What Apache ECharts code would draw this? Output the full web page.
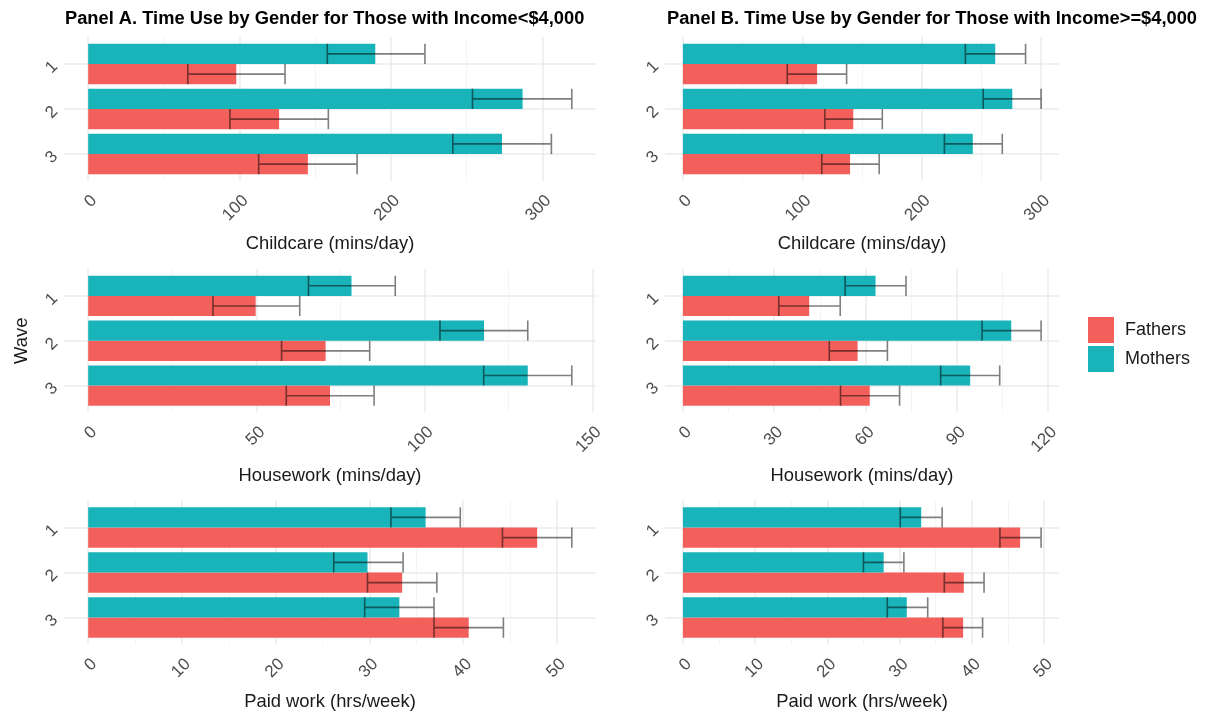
<!DOCTYPE html>
<html><head><meta charset="utf-8">
<script src="https://cdn.jsdelivr.net/npm/echarts@6/dist/echarts.min.js"></script>
<style>html,body{margin:0;padding:0;background:#fff}#c{width:1207px;height:713px}</style>
</head><body><div id="c"></div>
<script>
// ---------- data ----------
const waves = ['1', '2', '3'];
const genders = ['Fathers', 'Mothers'];

// Panel A (Income < $4,000) — Childcare (mins/day)
const childA_fathers    = [97.8, 126.1, 145.1];
const childA_fathers_lo = [65.8, 93.6, 112.6];
const childA_fathers_hi = [130.0, 158.6, 177.6];
const childA_mothers    = [189.6, 286.9, 273.3];
const childA_mothers_lo = [157.9, 253.8, 240.8];
const childA_mothers_hi = [222.4, 319.4, 305.9];
// Panel B (Income >= $4,000) — Childcare
const childB_fathers    = [112.4, 142.7, 140.0];
const childB_fathers_lo = [87.4, 118.9, 116.3];
const childB_fathers_hi = [137.1, 167.0, 164.4];
const childB_mothers    = [261.6, 275.9, 242.8];
const childB_mothers_lo = [236.6, 251.5, 219.0];
const childB_mothers_hi = [287.0, 300.0, 267.5];
// Panel A — Housework (mins/day)
const houseA_fathers    = [49.8, 70.6, 71.9];
const houseA_fathers_lo = [37.1, 57.5, 58.9];
const houseA_fathers_hi = [62.9, 83.7, 85.0];
const houseA_mothers    = [78.3, 117.7, 130.7];
const houseA_mothers_lo = [65.5, 104.6, 117.6];
const houseA_mothers_hi = [91.3, 130.7, 143.8];
// Panel B — Housework
const houseB_fathers    = [41.5, 57.4, 61.4];
const houseB_fathers_lo = [31.5, 48.1, 51.8];
const houseB_fathers_hi = [51.7, 67.2, 71.2];
const houseB_mothers    = [63.3, 107.9, 94.4];
const houseB_mothers_lo = [53.3, 98.3, 84.7];
const houseB_mothers_hi = [73.3, 117.7, 104.1];
// Panel A — Paid work (hrs/week)
const paidA_fathers    = [47.9, 33.5, 40.6];
const paidA_fathers_lo = [44.2, 29.8, 36.9];
const paidA_fathers_hi = [51.6, 37.2, 44.3];
const paidA_mothers    = [36.0, 29.8, 33.2];
const paidA_mothers_lo = [32.3, 26.2, 29.5];
const paidA_mothers_hi = [39.7, 33.6, 36.9];
// Panel B — Paid work
const paidB_fathers    = [46.7, 38.9, 38.8];
const paidB_fathers_lo = [43.9, 36.2, 36.0];
const paidB_fathers_hi = [49.6, 41.7, 41.5];
const paidB_mothers    = [33.0, 27.8, 31.0];
const paidB_mothers_lo = [30.1, 25.0, 28.3];
const paidB_mothers_hi = [35.9, 30.6, 33.9];

// tick labels (major) and minor gridline positions
const childTicks  = [0, 100, 200, 300];
const childMinor  = [50, 150, 250];
const houseTicksA = [0, 50, 100, 150];
const houseMinorA = [25, 75, 125];
const houseTicksB = [0, 30, 60, 90, 120];
const houseMinorB = [15, 45, 75, 105];
const paidTicks   = [0, 10, 20, 30, 40, 50];
const paidMinor   = [5, 15, 25, 35, 45];

const titleA = 'Panel A. Time Use by Gender for Those with Income<$4,000';
const titleB = 'Panel B. Time Use by Gender for Those with Income>=$4,000';
const xTitles = ['Childcare (mins/day)', 'Housework (mins/day)', 'Paid work (hrs/week)'];
const yTitle = 'Wave';

// ---------- layout / style ----------
const FONT = "'Liberation Sans', Arial, Helvetica, sans-serif";
const COLORS = { Fathers: '#F35F5B', Mothers: '#19B4B9' };
const colLeft = [64, 665], colWidth = [532, 394];
const rowTop = [37, 269, 500.5], rowHeight = [144, 143.5, 144];
const nameGaps = [54, 54.5, 48];
const HALF = 0.225; // half bar thickness in category units (dodge width 0.9)

const panels = [
  { row: 0, col: 0, ticks: childTicks, minor: childMinor, F: [childA_fathers, childA_fathers_lo, childA_fathers_hi], M: [childA_mothers, childA_mothers_lo, childA_mothers_hi] },
  { row: 0, col: 1, ticks: childTicks, minor: childMinor, F: [childB_fathers, childB_fathers_lo, childB_fathers_hi], M: [childB_mothers, childB_mothers_lo, childB_mothers_hi] },
  { row: 1, col: 0, ticks: houseTicksA, minor: houseMinorA, F: [houseA_fathers, houseA_fathers_lo, houseA_fathers_hi], M: [houseA_mothers, houseA_mothers_lo, houseA_mothers_hi] },
  { row: 1, col: 1, ticks: houseTicksB, minor: houseMinorB, F: [houseB_fathers, houseB_fathers_lo, houseB_fathers_hi], M: [houseB_mothers, houseB_mothers_lo, houseB_mothers_hi] },
  { row: 2, col: 0, ticks: paidTicks, minor: paidMinor, F: [paidA_fathers, paidA_fathers_lo, paidA_fathers_hi], M: [paidA_mothers, paidA_mothers_lo, paidA_mothers_hi] },
  { row: 2, col: 1, ticks: paidTicks, minor: paidMinor, F: [paidB_fathers, paidB_fathers_lo, paidB_fathers_hi], M: [paidB_mothers, paidB_mothers_lo, paidB_mothers_hi] }
];

const grid = [], xAxis = [], yAxis = [], series = [];
const offsets = { Mothers: -HALF, Fathers: HALF };

panels.forEach((p, k) => {
  const all = [].concat(p.F[0], p.F[2], p.M[0], p.M[2]);
  const M = Math.max.apply(null, all);
  const xmin = -0.05 * M, xmax = 1.05 * M;
  grid.push({ left: colLeft[p.col], width: colWidth[p.col], top: rowTop[p.row], height: rowHeight[p.row] });
  xAxis.push({
    gridIndex: k, type: 'value', min: xmin, max: xmax, position: 'bottom',
    axisLine: { show: false },
    axisTick: { show: false, customValues: p.ticks },
    axisLabel: { customValues: p.ticks, rotate: 45, align: 'right', verticalAlign: 'top', margin: 11,
      fontSize: 17, color: '#4D4D4D', fontFamily: FONT },
    splitLine: { show: true, lineStyle: { color: '#EBEBEB', width: 1.5 } },
    name: xTitles[p.row], nameLocation: 'middle', nameGap: nameGaps[p.row],
    nameTextStyle: { fontSize: 18.4, color: '#1A1A1A', fontFamily: FONT }
  });
  xAxis.push({
    gridIndex: k, type: 'value', min: xmin, max: xmax, position: 'top',
    axisLine: { show: false }, axisLabel: { show: false },
    axisTick: { show: false, customValues: p.minor },
    splitLine: { show: true, lineStyle: { color: '#F2F2F2', width: 0.8 } }
  });
  const yA = {
    gridIndex: k, type: 'value', min: -0.6, max: 2.6, inverse: true,
    axisLine: { show: false },
    axisTick: { show: false, customValues: [0, 1, 2] },
    axisLabel: { customValues: [0, 1, 2], formatter: v => waves[Math.round(v)], rotate: 45, margin: 9, fontSize: 17, color: '#4D4D4D', fontFamily: FONT },
    splitLine: { show: true, lineStyle: { color: '#EBEBEB', width: 1.5 } }
  };
  if (p.row === 1 && p.col === 0) {
    Object.assign(yA, { name: yTitle, nameLocation: 'middle', nameGap: 33, nameRotate: 90,
      nameTextStyle: { fontSize: 18.4, color: '#1A1A1A', fontFamily: FONT } });
  }
  yAxis.push(yA);

  ['Fathers', 'Mothers'].forEach(g => {
    const arr = g === 'Fathers' ? p.F : p.M;
    const off = offsets[g];
    series.push({
      type: 'custom', name: g, coordinateSystem: 'cartesian2d',
      xAxisIndex: 2 * k, yAxisIndex: k, z: 2,
      itemStyle: { color: COLORS[g] },
      encode: { x: 0, y: 1 },
      data: arr[0].map((v, i) => [v, i]),
      renderItem: (params, api) => {
        const v = api.value(0), c = api.value(1);
        const a = api.coord([0, c + off - HALF]);
        const b = api.coord([v, c + off + HALF]);
        return { type: 'rect', shape: { x: a[0], y: a[1], width: b[0] - a[0], height: b[1] - a[1] },
          style: { fill: COLORS[g] } };
      }
    });
  });
  ['Fathers', 'Mothers'].forEach(g => {
    const arr = g === 'Fathers' ? p.F : p.M;
    const off = offsets[g];
    series.push({
      type: 'custom', name: g + ' CI', coordinateSystem: 'cartesian2d',
      xAxisIndex: 2 * k, yAxisIndex: k, z: 3,
      encode: { x: [0, 1], y: 2 },
      data: arr[1].map((lo, i) => [lo, arr[2][i], i]),
      renderItem: (params, api) => {
        const lo = api.value(0), hi = api.value(1), c = api.value(2);
        const yc = c + off;
        const pL = api.coord([lo, yc]), pH = api.coord([hi, yc]);
        const t = api.coord([lo, yc - HALF])[1], bt = api.coord([lo, yc + HALF])[1];
        const st = { stroke: 'rgba(0,0,0,0.5)', lineWidth: 1.6, fill: null };
        return { type: 'polyline', shape: { points: [
            [pL[0], t], [pL[0], bt], [pL[0], pL[1]], [pH[0], pH[1]], [pH[0], t], [pH[0], bt]
          ] }, style: st };
      }
    });
  });
});

const chart = echarts.init(document.getElementById('c'), null, { renderer: 'canvas' });
chart.setOption({
  animation: false,
  backgroundColor: '#fff',
  textStyle: { fontFamily: FONT },
  title: [
    { text: titleA, left: 65, top: 10, padding: 0, textStyle: { fontSize: 18.3, fontWeight: 'bold', color: '#000', fontFamily: FONT } },
    { text: titleB, left: 667, top: 10, padding: 0, textStyle: { fontSize: 18.3, fontWeight: 'bold', color: '#000', fontFamily: FONT } }
  ],
  legend: {
    data: genders, orient: 'vertical', left: 1088, top: 317, padding: 0, icon: 'rect',
    itemWidth: 26, itemHeight: 26, itemGap: 3, selectedMode: false,
    textStyle: { fontSize: 18, color: '#1A1A1A', fontFamily: FONT, padding: [0, 0, 0, 6] }
  },
  grid, xAxis, yAxis, series
});
</script></body></html>
